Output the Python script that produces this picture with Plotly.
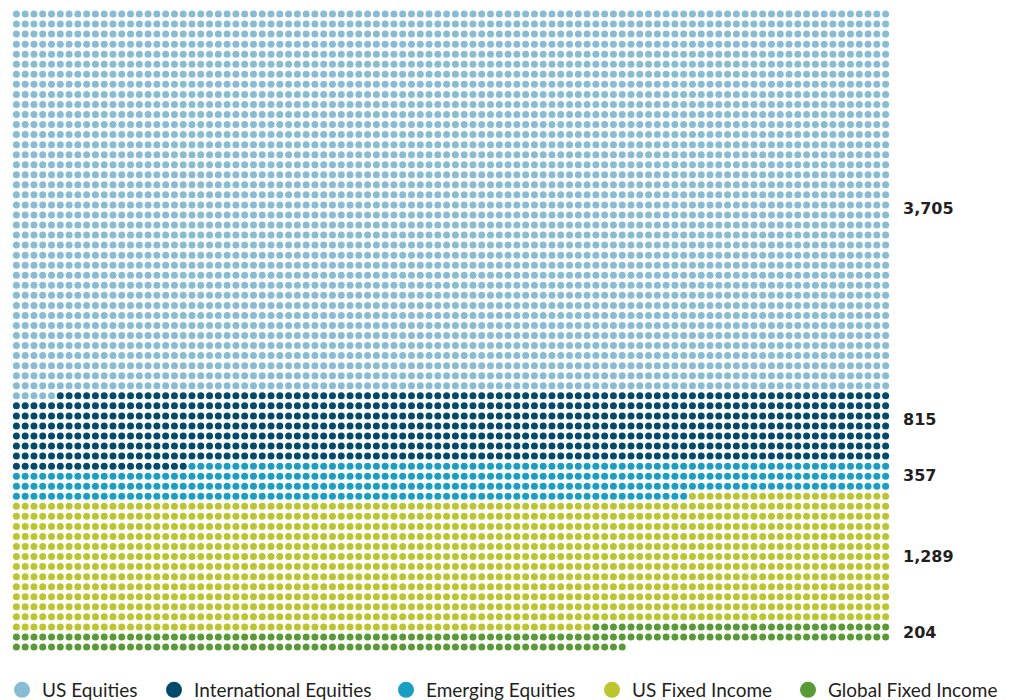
import numpy as np
import plotly.graph_objects as go

categories = ["US Equities", "International Equities", "Emerging Equities", "US Fixed Income", "Global Fixed Income"]
# dots as drawn in the picture (one dot per fund)
dot_counts = [3805, 715, 357, 1289, 204]
# printed labels as shown in the picture
value_labels = ["3,705", "815", "357", "1,289", "204"]
colors = ["#86BCD4", "#004A6E", "#17A0C4", "#BAC62B", "#589B34"]
label_rows = [19.4, 40.4, 45.9, 54.0, 61.6]
legend_centers_px = [22, 174, 406, 612, 808]

COLS = 100
total = sum(dot_counts)
n_rows = int(np.ceil(total / COLS))

W, H = 1011, 700
fig = go.Figure()
start = 0
for k, (name, v, c) in enumerate(zip(categories, dot_counts, colors)):
    idx = np.arange(start, start + v)
    fig.add_trace(go.Scatter(
        x=idx % COLS, y=idx // COLS, mode="markers", name=name,
        marker=dict(size=7, color=c, line=dict(width=0)),
        hoverinfo="skip", showlegend=False, cliponaxis=False))
    lg = "legend" if k == 0 else f"legend{k + 1}"
    fig.add_trace(go.Scatter(
        x=[None], y=[None], mode="markers", name=name,
        marker=dict(size=20, color=c), showlegend=True, legend=lg))
    start += v

plot_w = 100 * 8.788
plot_h = 64 * 10.048
ml = 16 - 0.5 * 8.788
mt = 14 - 0.5 * 10.048

for lab, r in zip(value_labels, label_rows):
    fig.add_annotation(x=(901 - ml) / plot_w, xref="paper", y=r, yref="y", text=lab,
                       showarrow=False, xanchor="left", yanchor="middle",
                       font=dict(family="DejaVu Sans", size=16, color="#231F20", weight="bold"))

legend_common = dict(orientation="h", xref="container", yref="container",
                     xanchor="left", yanchor="middle", y=10 / H,
                     font=dict(family="Lato", size=19, color="#231F20"),
                     itemsizing="trace", itemwidth=30, bgcolor="rgba(0,0,0,0)",
                     borderwidth=0)
legends = {}
for k, cx in enumerate(legend_centers_px):
    key = "legend" if k == 0 else f"legend{k + 1}"
    legends[key] = dict(legend_common, x=(cx - 20) / W)

fig.update_layout(
    width=W, height=H,
    margin=dict(l=ml, r=W - ml - plot_w, t=mt, b=H - mt - plot_h, pad=0, autoexpand=False),
    paper_bgcolor="white", plot_bgcolor="white",
    xaxis=dict(range=[-0.5, COLS - 0.5], visible=False, fixedrange=True),
    yaxis=dict(range=[n_rows - 0.5, -0.5], visible=False, fixedrange=True),
    showlegend=True,
    **legends,
)

fig.write_html("out.html")
